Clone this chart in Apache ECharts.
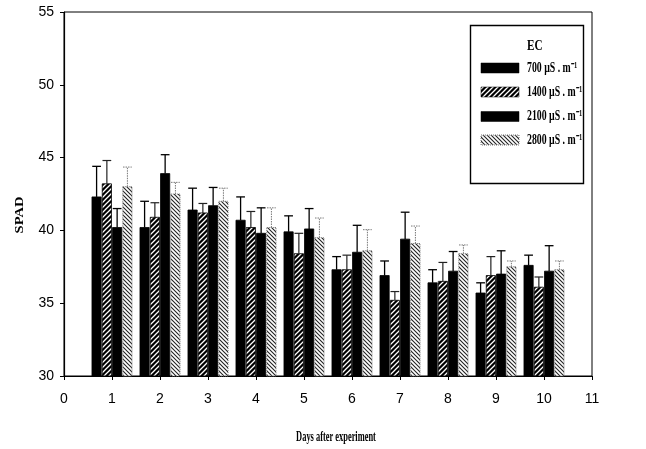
<!DOCTYPE html>
<html>
<head>
<meta charset="utf-8">
<script src="https://cdn.jsdelivr.net/npm/echarts@6/dist/echarts.min.js"></script>
<style>
html,body{margin:0;padding:0;background:#fff;}
#main{width:646px;height:449px;}
</style>
</head>
<body>
<div id="main"></div>
<script>
// ---- data ----
const days = [1, 2, 3, 4, 5, 6, 7, 8, 9, 10];
const seriesNames = ['700 µS . m⁻¹', '1400 µS . m⁻¹', '2100 µS . m⁻¹', '2800 µS . m⁻¹'];
const legendTitle = 'EC';
const yTitle = 'SPAD';
const xTitle = 'Days after experiment';
const mean700  = [42.3, 40.2, 41.4, 40.7, 39.9, 37.3, 36.9, 36.4, 35.7, 37.6];
const sd700    = [2.1, 1.8, 1.5, 1.6, 1.1, 0.9, 1.0, 0.9, 0.7, 0.7];
const mean1400 = [43.2, 40.9, 41.2, 40.2, 38.4, 37.3, 35.2, 36.5, 36.9, 36.1];
const sd1400   = [1.6, 1.0, 0.65, 1.1, 1.4, 1.0, 0.6, 1.3, 1.3, 0.7];
const mean2100 = [40.2, 43.9, 41.7, 39.8, 40.1, 38.5, 39.4, 37.2, 37.0, 37.2];
const sd2100   = [1.3, 1.3, 1.25, 1.75, 1.4, 1.85, 1.85, 1.35, 1.6, 1.75];
const mean2800 = [43.0, 42.5, 42.0, 40.2, 39.5, 38.6, 39.1, 38.4, 37.5, 37.3];
const sd2800   = [1.35, 0.8, 0.9, 1.35, 1.35, 1.45, 1.2, 0.6, 0.4, 0.6];
const xTicks = [0, 1, 2, 3, 4, 5, 6, 7, 8, 9, 10, 11];
const yTicks = [30, 35, 40, 45, 50, 55];

const means = [mean700, mean1400, mean2100, mean2800];
const sds = [sd700, sd1400, sd2100, sd2800];

// ---- patterns ----
function hatch(bg, fg, dir, size, lw) {
  const c = document.createElement('canvas');
  c.width = c.height = size;
  const g = c.getContext('2d');
  g.fillStyle = bg; g.fillRect(0, 0, size, size);
  g.strokeStyle = fg; g.lineWidth = lw;
  g.beginPath();
  if (dir > 0) {
    g.moveTo(0, size); g.lineTo(size, 0);
    g.moveTo(-size, size); g.lineTo(size, -size);
    g.moveTo(0, 2 * size); g.lineTo(2 * size, 0);
  } else {
    g.moveTo(0, 0); g.lineTo(size, size);
    g.moveTo(-size, 0); g.lineTo(size, 2 * size);
    g.moveTo(0, -size); g.lineTo(2 * size, size);
  }
  g.stroke();
  return c;
}
const fills = [
  '#000',
  { image: hatch('#000', '#fff', 1, 5, 1.3), repeat: 'repeat' },
  '#000',
  { image: hatch('#fff', '#222', -1, 4, 1.1), repeat: 'repeat' }
];
const barStroke = [
  { stroke: '#000', lineWidth: 0.8 },
  { stroke: '#000', lineWidth: 0.8 },
  { stroke: '#000', lineWidth: 0.8 },
  { stroke: '#777', lineWidth: 1, lineDash: [1, 1] }
];
const errStyle = [
  { stroke: '#000', lineWidth: 1.3 },
  { stroke: '#222', lineWidth: 1.2 },
  { stroke: '#000', lineWidth: 1.3 },
  { stroke: '#777', lineWidth: 1, lineDash: [1.5, 1] }
];

function makeRender(k) {
  return function (params, api) {
    const day = api.value(0), m = api.value(1), sd = api.value(2);
    const base = api.coord([day, 30]);
    const top = api.coord([day, m]);
    const err = api.coord([day, m + sd]);
    const unit = api.size([1, 0])[0];
    const step = unit * 0.214, w = unit * 0.192;
    const cx = top[0] + (k - 1.5) * step;
    const capW = w * 0.95;
    return {
      type: 'group',
      children: [
        {
          type: 'rect',
          shape: { x: cx - w / 2, y: top[1], width: w, height: base[1] - top[1] },
          style: Object.assign({ fill: fills[k] }, barStroke[k])
        },
        {
          type: 'line',
          shape: { x1: cx, y1: top[1], x2: cx, y2: err[1] },
          style: Object.assign({}, errStyle[k])
        },
        {
          type: 'line',
          shape: { x1: cx - capW / 2, y1: err[1], x2: cx + capW / 2, y2: err[1] },
          style: Object.assign({}, errStyle[k])
        }
      ]
    };
  };
}

const series = seriesNames.map((name, k) => ({
  name: name,
  type: 'custom',
  renderItem: makeRender(k),
  itemStyle: { color: fills[k] },
  encode: { x: 0, y: 1 },
  data: days.map((d, i) => [d, means[k][i], sds[k][i]]),
  z: 3
}));

// legend drawn as graphic (text condensed like the original)
const serif = '"Liberation Serif", "Times New Roman", serif';
const legendGraphics = [
  { type: 'rect', z: 10, shape: { x: 470.5, y: 25.5, width: 113, height: 158 }, style: { fill: '#fff', stroke: '#000', lineWidth: 1.4 } },
  { type: 'text', z: 11, x: 527, y: 46, scaleX: 0.8, style: { text: legendTitle, fill: '#000', font: 'bold 14px ' + serif, textAlign: 'left', textVerticalAlign: 'middle' } }
];
const rowY = [68, 92, 116.5, 140];
seriesNames.forEach((name, k) => {
  legendGraphics.push({
    type: 'rect', z: 11,
    shape: { x: 481, y: rowY[k] - 5, width: 38, height: 10 },
    style: Object.assign({ fill: fills[k] }, k === 3 ? { stroke: '#777', lineWidth: 1, lineDash: [1, 1] } : { stroke: '#000', lineWidth: 0.5 })
  });
  legendGraphics.push({
    type: 'text', z: 11, x: 527, y: rowY[k], scaleX: 0.7,
    style: { text: name, fill: '#000', font: 'bold 14px ' + serif, textAlign: 'left', textVerticalAlign: 'middle' }
  });
});

const chart = echarts.init(document.getElementById('main'), null, { renderer: 'canvas' });
const labelFont = { color: '#000', fontFamily: 'Liberation Sans, Arial, sans-serif', fontSize: 14 };
chart.setOption({
  animation: false,
  backgroundColor: '#fff',
  grid: { left: 64, right: 54, top: 12, bottom: 73, show: true, borderColor: '#000', borderWidth: 1, containLabel: false },
  xAxis: {
    type: 'value', min: xTicks[0], max: xTicks[xTicks.length - 1], interval: 1,
    axisLine: { show: true, lineStyle: { color: '#000', width: 1.2 } },
    axisTick: { show: true, inside: false, length: 4, lineStyle: { color: '#000' } },
    splitLine: { show: false },
    axisLabel: Object.assign({ margin: 16 }, labelFont)
  },
  yAxis: {
    type: 'value', min: yTicks[0], max: yTicks[yTicks.length - 1], interval: 5,
    axisLine: { show: true, lineStyle: { color: '#000', width: 1.2 } },
    axisTick: { show: true, inside: false, length: 4, lineStyle: { color: '#000' } },
    splitLine: { show: false },
    axisLabel: Object.assign({ margin: 10 }, labelFont)
  },
  graphic: legendGraphics.concat([
    { type: 'text', z: 11, x: 20, y: 215, rotation: Math.PI / 2, scaleY: 0.85, style: { text: yTitle, fill: '#000', font: 'bold 14.5px ' + serif, textAlign: 'center', textVerticalAlign: 'middle' } },
    { type: 'text', z: 11, x: 336, y: 437, scaleX: 0.56, style: { text: xTitle, fill: '#000', font: 'bold 15px ' + serif, textAlign: 'center', textVerticalAlign: 'middle' } }
  ]),
  series: series
});
</script>
</body>
</html>
